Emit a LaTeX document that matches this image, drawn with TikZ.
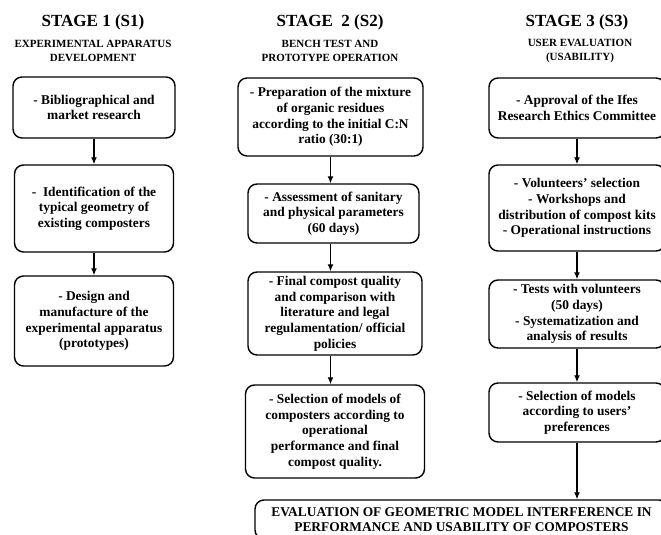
\documentclass[tikz,border=0pt]{standalone}
\usepackage{fontspec}
\setmainfont{Liberation Serif}
\usetikzlibrary{arrows.meta}

\tikzset{
  stagetitle/.style={font=\bfseries\fontsize{17}{20}\selectfont},
  stagesub/.style={align=center,font=\bfseries\fontsize{11}{13.3}\selectfont},
  stepbox/.style={draw,line width=1.4pt,rounded corners=9pt,align=center,
    inner sep=0pt,font=\bfseries\fontsize{13.4}{15.7}\selectfont},
}

\begin{document}
\begin{tikzpicture}[x=1pt,y=-1pt,>={Latex[length=7pt,width=6pt]},line join=bevel,]

 \useasboundingbox (0,0) rectangle (661,535);
 \clip (0,0) rectangle (661,535);

 % stage headings
 \node (title_1) at (93,22) [stagetitle] {STAGE 1 (S1)};
 \node (title_2) at (330,22) [stagetitle] {STAGE\ \ 2 (S2)};
 \node (title_3) at (577,22) [stagetitle] {STAGE 3 (S3)};
 \node (sub_1) at (93,51) [stagesub] {EXPERIMENTAL APPARATUS\\DEVELOPMENT};
 \node (sub_2) at (330,51) [stagesub] {BENCH TEST AND\\PROTOTYPE OPERATION};
 \node (sub_3) at (580,51) [stagesub] {USER EVALUATION\\(USABILITY)};

 % stage 1
 \node (node_0) at (94,107.5) [stepbox,minimum width=162pt,minimum height=61pt] {- Bibliographical and\\market research};
 \node (node_1) at (94,208.5) [stepbox,minimum width=159pt,minimum height=87pt] {-\ \ Identification of the\\typical geometry of\\existing composters};
 \node (node_2) at (94,321) [stepbox,minimum width=159pt,minimum height=90pt] {- Design and\\manufacture of the\\experimental apparatus\\(prototypes)};

 % stage 2
 \node (node_3) at (330.5,117) [stepbox,minimum width=185pt,minimum height=78pt] {- Preparation of the mixture\\of organic residues\\according to the initial C:N\\ratio (30:1)};
 \node (node_4) at (333.5,213.5) [stepbox,minimum width=171pt,minimum height=59pt] {- Assessment of sanitary\\and physical parameters\\(60 days)};
 \node (node_5) at (335,313.5) [stepbox,minimum width=174pt,minimum height=83pt] {- Final compost quality\\and comparison with\\literature and legal\\regulamentation/ official\\policies};
 \node (node_6) at (335,431.5) [stepbox,minimum width=179pt,minimum height=93pt] {- Selection of models of\\composters according to\\operational\\performance and final\\compost quality.};

 % stage 3
 \node (node_7) at (577,108) [stepbox,minimum width=176pt,minimum height=60pt] {- Approval of the Ifes\\Research Ethics Committee};
 \node (node_8) at (577,208) [stepbox,minimum width=176pt,minimum height=86pt] {- Volunteers’ selection\\- Workshops and\\distribution of compost kits\\- Operational instructions};
 \node (node_9) at (577,314) [stepbox,minimum width=176pt,minimum height=68pt] {- Tests with volunteers\\(50 days)\\- Systematization and\\analysis of results};
 \node (node_10) at (577,412.5) [stepbox,minimum width=176pt,minimum height=59pt] {- Selection of models\\according to users’\\preferences};

 % result
 \node (node_11) at (461.5,519.5) [stepbox,minimum width=413pt,minimum height=39pt] {EVALUATION OF GEOMETRIC MODEL INTERFERENCE IN\\PERFORMANCE AND USABILITY OF COMPOSTERS};

  \draw [black,line width=1.3pt,->] (node_0.south) -- (node_0.south |- node_1.north);
  \draw [black,line width=1.3pt,->] (node_1.south) -- (node_1.south |- node_2.north);
  \draw [black,line width=1.3pt,->] (node_3.south) -- (node_3.south |- node_4.north);
  \draw [black,line width=1.3pt,->] (node_4.south -| node_3.south) -- (node_3.south |- node_5.north);
  \draw [black,line width=1.3pt,->] (node_5.south -| node_3.south) -- (node_3.south |- node_6.north);
  \draw [black,line width=1.3pt,->] (node_7.south) -- (node_7.south |- node_8.north);
  \draw [black,line width=1.3pt,->] (node_8.south) -- (node_8.south |- node_9.north);
  \draw [black,line width=1.3pt,->] (node_9.south) -- (node_9.south |- node_10.north);
  \draw [black,line width=1.3pt,->] (node_10.south) -- (node_10.south |- node_11.north);

\end{tikzpicture}
\end{document}
